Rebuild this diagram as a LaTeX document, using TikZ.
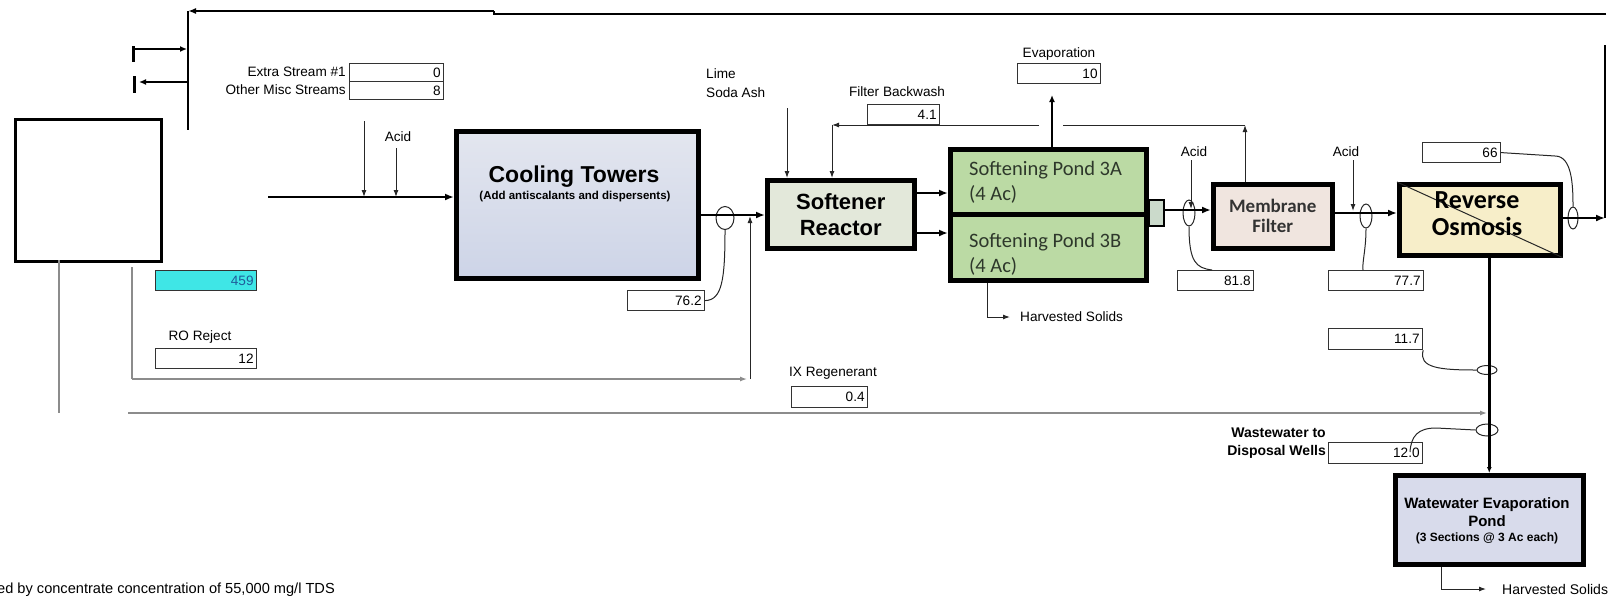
\documentclass[tikz,border=0pt]{standalone}
\usepackage{fontspec}
\setmainfont{Liberation Sans}
\newfontfamily\calfont{Carlito}
\usetikzlibrary{arrows.meta,shapes.geometric}
\definecolor{ctfillA}{HTML}{E3E6EF}
\definecolor{ctfillB}{HTML}{CDD4E7}
\definecolor{srfill}{HTML}{E3E8DA}
\definecolor{pdfill}{HTML}{BBDAA4}
\definecolor{pdtext}{HTML}{2E382B}
\definecolor{cnfill}{HTML}{CBDACB}
\definecolor{mffill}{HTML}{F0E5DF}
\definecolor{rofill}{HTML}{F7EEC9}
\definecolor{wpfill}{HTML}{D8DBEB}
\definecolor{cyanfill}{HTML}{3FE6E6}
\definecolor{cyantext}{HTML}{1F5C9A}
\newcommand\smallf{\fontsize{13.6}{15}\selectfont}
\begin{document}
\begin{tikzpicture}[x=1pt,y=-1pt,
  proc/.style={draw=black,line width=4.5pt,inner sep=0pt,anchor=north west},
  numbox/.style={draw=black!80,line width=1.2pt,inner xsep=3pt,inner ysep=0pt,anchor=north west,align=right,font=\smallf},
  lbl/.style={inner sep=0pt,font=\smallf},
  flow/.style={line width=2.6pt,-{Latex[length=9pt,width=7pt]}},
  thinarr/.style={line width=1pt,draw=black!85,-{Latex[length=7pt,width=5pt]}},
  thinline/.style={line width=1pt,draw=black!85},
  grayline/.style={line width=1.3pt,draw=black!45},
  grayarr/.style={line width=1.3pt,draw=black!45,-{Latex[length=7pt,width=5pt]}},
  ell/.style={draw=black!85,line width=1pt,ellipse,inner sep=0pt}
]
\useasboundingbox (0,0) rectangle (1621,600);

% ---------- process boxes ----------
\node[proc,top color=ctfillA,bottom color=ctfillB,minimum width=242pt,minimum height=147pt] (ct) at (454,129) {};
\node[font=\bfseries\fontsize{23}{26}\selectfont] (cttxt) at (574,177) {Cooling Towers};
\node[font=\bfseries\fontsize{11.5}{13}\selectfont] (ctsub) at (575,197) {(Add antiscalants and dispersents)};

\node[proc,fill=srfill,minimum width=147pt,minimum height=68pt,align=center,
      font=\bfseries\fontsize{22}{26}\selectfont] (sr) at (765,178) {Softener\\Reactor};

\node[proc,fill=pdfill,minimum width=196pt,minimum height=65pt] (pa) at (948,147) {};
\node[proc,fill=pdfill,minimum width=196pt,minimum height=66pt] (pb) at (948,212) {};
\node[anchor=west,inner sep=0pt,text=pdtext,font=\calfont\fontsize{20.5}{22}\selectfont] (pat1) at (969,170) {Softening Pond 3A};
\node[anchor=west,inner sep=0pt,text=pdtext,font=\calfont\fontsize{20.5}{22}\selectfont] (pat2) at (969,194) {(4 Ac)};
\node[anchor=west,inner sep=0pt,text=pdtext,font=\calfont\fontsize{20.5}{22}\selectfont] (pbt1) at (969,242) {Softening Pond 3B};
\node[anchor=west,inner sep=0pt,text=pdtext,font=\calfont\fontsize{20.5}{22}\selectfont] (pbt2) at (969,266) {(4 Ac)};

\node[draw=black,line width=1.5pt,fill=cnfill,anchor=north west,inner sep=0pt,minimum width=15pt,minimum height=26pt] (cn) at (1148,199) {};

\node[proc,fill=mffill,minimum width=119pt,minimum height=64pt,align=center,text=black!80,
      font=\calfont\bfseries\fontsize{19}{20}\selectfont] (mf) at (1211,182) {Membrane\\Filter};

\node[proc,fill=rofill,minimum width=161pt,minimum height=71pt] (ro) at (1397,182) {};
\draw[thinline] (ro.north west) -- (ro.south east);
\node[align=center,inner sep=0pt,font=\calfont\bfseries\fontsize{26}{27}\selectfont] (rotxt) at (1477,214) {Reverse\\Osmosis};

\node[proc,fill=wpfill,minimum width=188pt,minimum height=89pt] (wp) at (1393,473) {};
\node[font=\bfseries\fontsize{15}{16}\selectfont,inner sep=0pt] (wpt1) at (1487,505) {Watewater Evaporation};
\node[font=\bfseries\fontsize{15}{16}\selectfont,inner sep=0pt] (wpt2) at (1487,521) {Pond};
\node[font=\bfseries\fontsize{12}{13}\selectfont,inner sep=0pt] (wpt3) at (1487,538) {(3 Sections @ 3 Ac each)};

% white box on the left
\node[draw=black,line width=3pt,fill=white,anchor=north west,inner sep=0pt,minimum width=146pt,minimum height=142pt] (wb) at (14,118) {};

% ---------- number boxes ----------
\node[numbox,text width=88pt,minimum height=18pt] (es1) at (349,63) {0};
\node[numbox,text width=88pt,minimum height=18pt] (oms) at (349,81) {8};
\node[numbox,text width=95pt,minimum height=20pt,fill=cyanfill,text=cyantext] (cy) at (155,270) {459};
\node[numbox,text width=95pt,minimum height=20pt] (rr) at (155,348) {12};
\node[numbox,text width=71pt,minimum height=20pt] (n762) at (627,290) {76.2};
\node[numbox,text width=66pt,minimum height=20pt] (n41) at (867,104) {4.1};
\node[numbox,text width=77pt,minimum height=20pt] (n10) at (1017,63) {10};
\node[numbox,text width=70pt,minimum height=20pt] (n818) at (1177,270) {81.8};
\node[numbox,text width=89pt,minimum height=20pt] (n777) at (1328,270) {77.7};
\node[numbox,text width=72pt,minimum height=20pt] (n66) at (1422,142) {66};
\node[numbox,text width=88pt,minimum height=21pt] (n117) at (1328,328) {11.7};
\node[numbox,text width=88pt,minimum height=21pt] (n120) at (1328,442) {12.0};
\node[numbox,text width=70pt,minimum height=21pt] (n04) at (791,386) {0.4};

% ---------- labels ----------
\node[lbl,anchor=east] (les1) at (346,72) {Extra Stream \#1};
\node[lbl,anchor=east] (loms) at (346,90) {Other Misc Streams};
\node[lbl] (lacid0) at (398,137) {Acid};
\node[lbl,anchor=west] (llime) at (706,74) {Lime};
\node[lbl,anchor=west] (lsoda) at (706,93) {Soda Ash};
\node[lbl] (lbw) at (897,92) {Filter Backwash};
\node[lbl] (levap) at (1059,54) {Evaporation};
\node[lbl] (lacid1) at (1194,152) {Acid};
\node[lbl] (lacid2) at (1346,152) {Acid};
\node[lbl] (lrorej) at (200,337) {RO Reject};
\node[lbl] (lix) at (833,373) {IX Regenerant};
\node[lbl,anchor=east,font=\bfseries\fontsize{14}{15}\selectfont] (lww1) at (1326,433) {Wastewater to};
\node[lbl,anchor=east,font=\bfseries\fontsize{14}{15}\selectfont] (lww2) at (1326,452) {Disposal Wells};
\node[lbl,anchor=west] (lhs1) at (1020,317) {Harvested Solids};
\node[lbl,anchor=west,font=\fontsize{14}{15}\selectfont] (lhs2) at (1502,589) {Harvested Solids};
\node[lbl,anchor=west,font=\fontsize{14.6}{16}\selectfont] (lfoot) at (-3,590) {ed by concentrate concentration of 55,000 mg/l TDS};

% ---------- ellipses ----------
\node[ell,minimum width=18pt,minimum height=23pt] (e1) at (725,218) {};
\node[ell,minimum width=12pt,minimum height=26pt] (e2) at (1189,213) {};
\node[ell,minimum width=12pt,minimum height=24pt] (e3) at (1366,216) {};
\node[ell,minimum width=10pt,minimum height=22pt] (e4) at (1573,218) {};
\node[ell,minimum width=20pt,minimum height=9pt] (e5) at (1487,370) {};
\node[ell,minimum width=22pt,minimum height=12pt] (e6) at (1487,430) {};

% ---------- coordinates ----------
\coordinate (topR) at (1606,14);
\coordinate (topM) at (494,14);
\coordinate (topM2) at (494,11);
\coordinate (topL) at (188,11);
\coordinate (vbot) at (188,130);
\coordinate (a1s) at (133,49);
\coordinate (a1e) at (187,49);
\coordinate (a2s) at (187,82);
\coordinate (a2e) at (139,82);
\coordinate (inS) at (268,197);
\coordinate (acid0a) at (364,121);
\coordinate (acid0b) at (396,148);
\coordinate (rrA) at (132,267);
\coordinate (rrB) at (132,379);
\coordinate (rrC) at (747,379);
\coordinate (ixB) at (750,379);
\coordinate (ixT) at (750,216);
\coordinate (limeT) at (787,108);
\coordinate (bwUp) at (1245,125);
\coordinate (bwG1) at (1063,125);
\coordinate (bwG2) at (1039,125);
\coordinate (bwC) at (832,125);
\coordinate (evT) at (1052,95);
\coordinate (acid1T) at (1191,160);
\coordinate (acid2T) at (1353,160);
\coordinate (roV) at (1605,218);
\coordinate (roVT) at (1605,45);
\coordinate (low1) at (128,413);
\coordinate (low2) at (1487,413);
\coordinate (hs1a) at (987,317);
\coordinate (hs1b) at (1010,317);
\coordinate (hs2a) at (1441,589);
\coordinate (hs2b) at (1486,589);
\coordinate (gv1) at (59,260);
\coordinate (gv2) at (59,413);

% ---------- connectors ----------
% top recycle line
\draw[line width=1.8pt] (topR) -- (topM) -- (topM2);
\draw[line width=1.8pt,-{Latex[length=8pt,width=6pt]}] (topM2) -- (topL);
\draw[line width=2.6pt] (topL) -- (vbot);
\draw[line width=2.4pt,-{Latex[length=7pt,width=6pt]}] (a1s) -- (a1e);
\draw[line width=2.4pt,-{Latex[length=7pt,width=6pt]}] (a2s) -- (a2e);
\draw[line width=3pt] (133,46) -- (133,62);
\draw[line width=3pt] (134,76) -- (134,93);

% inflow to cooling towers
\draw[flow] (inS) -- (inS -| ct.west);
\draw[thinarr] (acid0a) -- (acid0a |- inS);
\draw[thinarr] (acid0b) -- (acid0b |- inS);

% cooling towers to softener
\draw[flow] (ct.east |- 0,215) -- (sr.west |- 0,215);
\draw[thinline] (n762.east) .. controls (722,300) and (725,280) .. (e1.south);
\draw[grayline] (rrA) -- (rrB);
\draw[grayarr] (rrB) -- (rrC);
\draw[thinarr] (ixB) -- (ixT);
\draw[grayline] (gv1) -- (gv2);
\draw[grayarr] (low1) -- (low2);

% softener inputs
\draw[thinarr] (limeT) -- (limeT |- sr.north);
\draw[thinarr] (mf.north -| bwUp) -- (bwUp);
\draw[thinline] (bwUp) -- (bwG1);
\draw[thinarr] (bwG2) -- (bwC);
\draw[thinarr] (bwC) -- (bwC |- sr.north);

% softener to ponds
\draw[flow] (sr.east |- 0,193) -- (pa.west |- 0,193);
\draw[flow] (sr.east |- 0,233) -- (pb.west |- 0,233);
\draw[line width=1.5pt,-{Latex[length=7pt,width=6pt]}] (pa.north -| evT) -- (evT);
\draw[thinline] (pb.south -| hs1a) -- (hs1a);
\draw[thinarr] (hs1a) -- (hs1b);

% ponds to membrane filter
\draw[flow] (cn.east |- 0,210) -- (mf.west |- 0,210);
\draw[thinarr] (acid1T) -- (acid1T |- 0,209);
\draw[thinline] (e2.south) .. controls (1189,262) and (1196,268) .. (1212,270);

% membrane filter to RO
\draw[flow] (mf.east |- 0,213) -- (ro.west |- 0,213);
\draw[thinarr] (acid2T) -- (acid2T |- 0,211);
\draw[thinline] (e3.south) .. controls (1366,250) and (1362,262) .. (1363,270);

% RO outputs
\draw[flow] (ro.east |- roV) -- (roV);
\draw[line width=2.6pt] (roV) -- (roVT);
\draw[thinline] (n66.east) -- (1555,156) .. controls (1572,156) and (1573,185) .. (e4.north);
\draw[line width=2.8pt,-{Latex[length=6pt,width=5pt]}] (ro.south -| wp.north) -- (wp.north);
\draw[thinline] (n117.south east) .. controls (1418,368) and (1440,370) .. (e5.west);
\draw[thinline] (e6.west) -- (1436,428) .. controls (1418,428) and (1411,436) .. (1410,452);
\draw[thinline] (wp.south -| hs2a) -- (hs2a);
\draw[thinarr] (hs2a) -- (hs2b);

\end{tikzpicture}
\end{document}
